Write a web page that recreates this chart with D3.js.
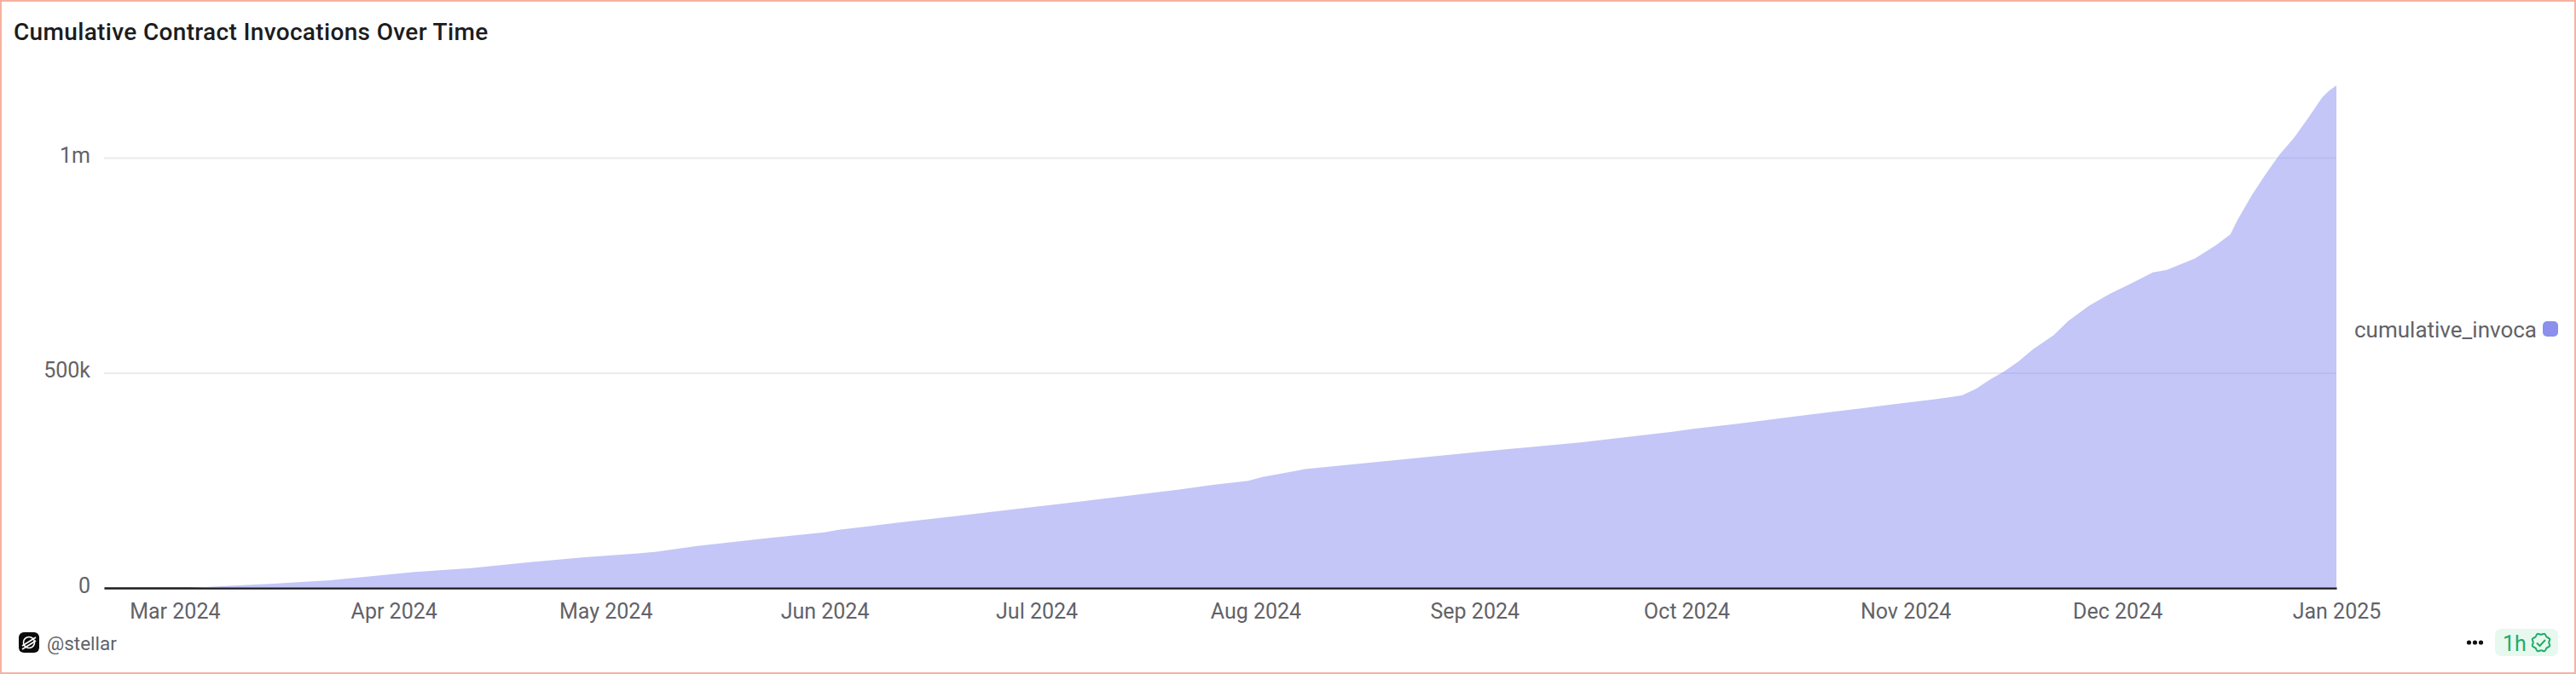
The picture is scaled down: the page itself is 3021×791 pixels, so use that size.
<!DOCTYPE html>
<html><head><meta charset="utf-8">
<script src="https://cdn.jsdelivr.net/npm/d3@7"></script>
<style>
html,body{margin:0;padding:0;background:#fff;overflow:hidden}
svg{display:block}
text{font-family:Roboto,sans-serif}
</style></head><body>
<svg id="c" width="3021" height="791"></svg>
<script>
const title = "Cumulative Contract Invocations Over Time";
const seriesName = "cumulative_invoca";
const handle = "@stellar";
const freshness = "1h";
const dates = ["2024-02-20","2024-03-03","2024-03-04","2024-03-15","2024-03-23","2024-03-27","2024-04-04","2024-04-12","2024-04-20","2024-04-28","2024-05-06","2024-05-08","2024-05-14","2024-05-24","2024-06-01","2024-06-03","2024-06-11","2024-06-19","2024-06-29","2024-07-09","2024-07-21","2024-07-26","2024-07-31","2024-08-02","2024-08-08","2024-08-19","2024-09-02","2024-09-16","2024-09-29","2024-10-02","2024-10-10","2024-10-18","2024-10-26","2024-10-30","2024-11-05","2024-11-09","2024-11-11","2024-11-13","2024-11-15","2024-11-17","2024-11-19","2024-11-22","2024-11-24","2024-11-27","2024-11-30","2024-12-03","2024-12-06","2024-12-08","2024-12-12","2024-12-15","2024-12-17","2024-12-18","2024-12-20","2024-12-22","2024-12-24","2024-12-26","2024-12-28","2024-12-30","2024-12-31","2025-01-01"];
const values = [0,0,1000,9900,17800,24400,37000,46000,59400,71300,80600,83800,97600,116000,129000,135000,151000,166000,185000,204500,228000,239600,249000,258000,276000,294000,317000,338000,363000,370000,385000,402000,418000,426000,438000,447500,463000,484500,503500,526000,554000,587500,620000,656000,684000,708000,733000,739000,766000,797000,822000,855000,912000,962000,1008000,1046000,1092000,1140000,1156000,1168000];
const xTickDates = ["2024-03-01","2024-04-01","2024-05-01","2024-06-01","2024-07-01","2024-08-01","2024-09-01","2024-10-01","2024-11-01","2024-12-01","2025-01-01"];
const yTickValues = [0,500000,1000000];
const yTickLabels = ["0","500k","1m"];

const parse = d3.utcParse("%Y-%m-%d");
const svg = d3.select("#c");
const x = d3.scaleUtc().domain([parse(dates[0]), parse(dates[dates.length-1])]).range([122,2740]);
const y = d3.scaleLinear().domain([0,1200000]).range([690,84]);

// frame
svg.append("rect").attr("x",1).attr("y",1).attr("width",3019).attr("height",789)
  .attr("fill","#fff").attr("stroke","#f6b1a1").attr("stroke-width",2);

svg.append("text").attr("x",16).attr("y",47).attr("font-size",28).attr("font-weight",500)
  .attr("letter-spacing",0.34).attr("fill","#1c1c20").text(title);

// y axis + grid
const yAxis = d3.axisLeft(y).tickValues(yTickValues).tickSize(2618).tickPadding(16)
  .tickFormat((d,i)=>yTickLabels[i]);
const gy = svg.append("g").attr("transform","translate(2740,0)").call(yAxis);
gy.select(".domain").remove();
gy.selectAll("line").attr("stroke","#ebebee").attr("stroke-width",2);
gy.selectAll("text").attr("font-size",25).attr("fill","#626268").attr("dy","0.2em")
  .attr("font-family","Roboto,sans-serif");

// x axis
const xAxis = d3.axisBottom(x).tickValues(xTickDates.map(parse)).tickSize(0).tickPadding(18)
  .tickFormat(d3.utcFormat("%b %Y"));
const gx = svg.append("g").attr("transform","translate(0,690)").call(xAxis);
gx.select(".domain").attr("stroke","#1c1c20").attr("stroke-width",2.5);
gx.selectAll("text").attr("font-size",25).attr("fill","#626268")
  .attr("font-family","Roboto,sans-serif");

// area
const area = d3.area().x((d,i)=>x(parse(dates[i]))).y0(y(0)).y1(d=>y(d));
svg.append("path").datum(values).attr("d",area).attr("fill","#878eef").attr("fill-opacity",0.5);

// legend
svg.append("text").attr("x",2761).attr("y",396).attr("font-size",26).attr("fill","#626268").text(seriesName);
svg.append("rect").attr("x",2982).attr("y",377).attr("width",18).attr("height",18).attr("rx",5).attr("fill","#8a90ec");

// footer
svg.append("rect").attr("x",22).attr("y",742).attr("width",24).attr("height",24).attr("rx",6).attr("fill","#0b0b0d");
const logo = svg.append("g").attr("fill","none").attr("stroke","#fff").attr("stroke-width",1.6);
logo.append("circle").attr("cx",34).attr("cy",754).attr("r",6.5);
logo.append("line").attr("x1",26).attr("y1",758).attr("x2",42).attr("y2",748);
logo.append("line").attr("x1",26).attr("y1",762).attr("x2",42).attr("y2",752);
svg.append("text").attr("x",55).attr("y",763).attr("font-size",22.5).attr("fill","#626268").text(handle);

[2895.5,2902.5,2909.5].forEach(cx=>svg.append("circle").attr("cx",cx).attr("cy",754).attr("r",2.6).attr("fill","#111"));
svg.append("rect").attr("x",2926).attr("y",738).attr("width",74).attr("height",32).attr("rx",7).attr("fill","#e7f8ef");
svg.append("text").attr("x",2935).attr("y",764).attr("font-size",25).attr("fill","#22ab69").text(freshness);
const lobes = d3.range(16).map(i=>[i*Math.PI/8, i%2?11:9.2]);
svg.append("path").attr("transform","translate(2980,754)")
  .attr("d",d3.lineRadial().curve(d3.curveCardinalClosed)(lobes))
  .attr("fill","none").attr("stroke","#22ab69").attr("stroke-width",2);
svg.append("path").attr("d","M2975 754.5l3.5 3.5l6.5-7").attr("fill","none").attr("stroke","#22ab69").attr("stroke-width",2);
</script></body></html>
